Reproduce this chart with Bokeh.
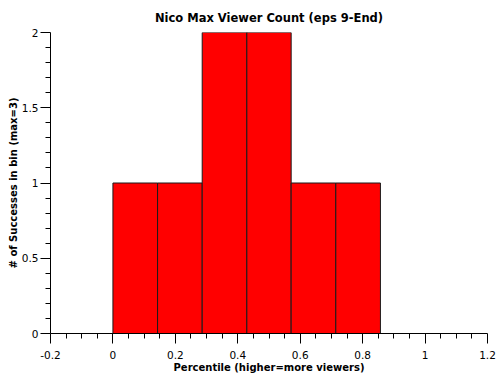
from bokeh.plotting import figure
from bokeh.models import Range1d, FixedTicker
from bokeh.embed import file_html
from bokeh.resources import INLINE

# Data
bin_left = [0.0, 0.143, 0.286, 0.429, 0.571, 0.714, 0.857]
bin_right = [0.143, 0.286, 0.429, 0.571, 0.714, 0.857, 1.0]
counts = [1, 1, 2, 2, 1, 1, 0]

x_ticks = [-0.2, 0.0, 0.2, 0.4, 0.6, 0.8, 1.0, 1.2]
x_tick_labels = ["-0.2", "0", "0.2", "0.4", "0.6", "0.8", "1", "1.2"]
x_minor = [-0.15, -0.1, -0.05, 0.05, 0.1, 0.15, 0.25, 0.3, 0.35, 0.45, 0.5, 0.55,
           0.65, 0.7, 0.75, 0.85, 0.9, 0.95, 1.05, 1.1, 1.15]
y_ticks = [0.0, 0.5, 1.0, 1.5, 2.0]
y_tick_labels = ["0", "0.5", "1", "1.5", "2"]
y_minor = [0.1, 0.2, 0.3, 0.4, 0.6, 0.7, 0.8, 0.9, 1.1, 1.2, 1.3, 1.4, 1.6, 1.7, 1.8, 1.9]

FONT = "DejaVu Sans"

p = figure(width=500, height=380, output_backend="svg", toolbar_location=None,
           x_range=Range1d(-0.2, 1.2), y_range=Range1d(0, 2),
           title="Nico Max Viewer Count (eps 9-End)")
p.min_border_left = 50
p.min_border_right = 13
p.min_border_top = 32
p.min_border_bottom = 47
p.outline_line_color = None
p.xgrid.visible = False
p.ygrid.visible = False
p.background_fill_color = "white"
p.border_fill_color = "white"

p.title.align = "center"
p.title.text_font = FONT
p.title.text_font_size = "11.5px"
p.title.text_font_style = "bold"
p.title.text_color = "black"
p.title.offset = 0
p.title.standoff = 15

p.quad(left=bin_left, right=bin_right, top=counts, bottom=[0] * len(counts),
       fill_color="#FF0000", line_color="#1a1a1a", line_width=1)

for ax, ticks, minor, labels in ((p.xaxis[0], x_ticks, x_minor, x_tick_labels),
                                 (p.yaxis[0], y_ticks, y_minor, y_tick_labels)):
    ax.ticker = FixedTicker(ticks=ticks, minor_ticks=minor)
    ax.major_label_overrides = {t: l for t, l in zip(ticks, labels)}
    ax.major_tick_in = 0
    ax.major_tick_out = 10
    ax.minor_tick_in = 0
    ax.minor_tick_out = 5
    ax.axis_line_color = "black"
    ax.major_tick_line_color = "black"
    ax.minor_tick_line_color = "black"
    ax.major_label_text_font = FONT
    ax.major_label_text_font_size = "10.5px"
    ax.major_label_text_color = "black"
    ax.axis_label_text_font = FONT
    ax.axis_label_text_font_size = "10px"
    ax.axis_label_text_font_style = "bold"
    ax.axis_label_text_color = "black"

p.xaxis.major_label_standoff = 7
p.xaxis.axis_label_standoff = 0
p.yaxis.major_label_standoff = 2
p.yaxis.axis_label_standoff = 0

p.xaxis.axis_label = "Percentile (higher=more viewers)"
p.yaxis.axis_label = "# of Successes in bin (max=3)"
p.yaxis.major_label_orientation = "horizontal"

open("out.html", "w").write(file_html(p, INLINE))
